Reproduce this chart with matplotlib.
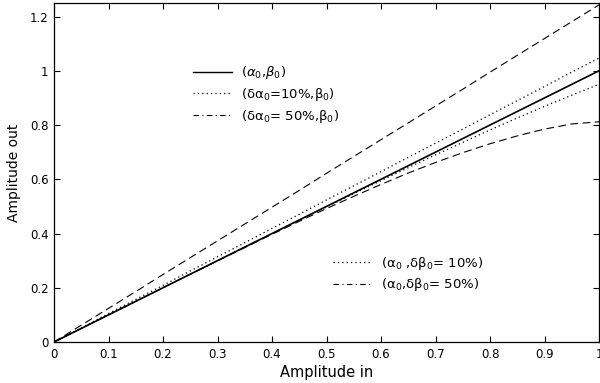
import matplotlib
matplotlib.use("Agg")
import matplotlib.pyplot as plt
from matplotlib.lines import Line2D
from matplotlib.ticker import FixedLocator, FuncFormatter

plt.rcParams['font.family'] = ['DejaVu Sans']
plt.rcParams['mathtext.fontset'] = 'dejavusans'

# Amplitude in
amp_in = [0.00, 0.05, 0.10, 0.15, 0.20, 0.25, 0.30, 0.35, 0.40, 0.45, 0.50,
          0.55, 0.60, 0.65, 0.70, 0.75, 0.80, 0.85, 0.90, 0.95, 1.00]
# (alpha0, beta0) nominal
nominal = [0.00, 0.05, 0.10, 0.15, 0.20, 0.25, 0.30, 0.35, 0.40, 0.45, 0.50,
           0.55, 0.60, 0.65, 0.70, 0.75, 0.80, 0.85, 0.90, 0.95, 1.00]
# d alpha0 = 10%
dalpha_10 = [0.000, 0.052, 0.105, 0.157, 0.209, 0.262, 0.314, 0.366, 0.419, 0.471, 0.524,
             0.576, 0.628, 0.681, 0.733, 0.785, 0.838, 0.890, 0.942, 0.995, 1.047]
# d alpha0 = 50%
dalpha_50 = [0.000, 0.062, 0.124, 0.186, 0.249, 0.311, 0.373, 0.435, 0.497, 0.559, 0.622,
             0.684, 0.746, 0.808, 0.870, 0.932, 0.995, 1.057, 1.119, 1.181, 1.243]
# d beta0 = 10%
dbeta_10 = [0.000, 0.050, 0.100, 0.150, 0.200, 0.250, 0.300, 0.350, 0.400, 0.449, 0.498,
            0.547, 0.595, 0.643, 0.690, 0.736, 0.782, 0.826, 0.869, 0.910, 0.950]
# d beta0 = 50%
dbeta_50 = [0.000, 0.050, 0.100, 0.150, 0.200, 0.250, 0.299, 0.348, 0.397, 0.445, 0.492,
            0.537, 0.581, 0.623, 0.662, 0.698, 0.731, 0.760, 0.785, 0.804, 0.812]

x_ticks = [0, 0.1, 0.2, 0.3, 0.4, 0.5, 0.6, 0.7, 0.8, 0.9, 1]
y_ticks = [0, 0.2, 0.4, 0.6, 0.8, 1, 1.2]

labels_alpha = [r'($\alpha_0$,$\beta_0$)',
                r'(δα$_0$=10%,β$_0$)',
                r'(δα$_0$= 50%,β$_0$)']
labels_beta = [r'(α$_0$ ,δβ$_0$= 10%)',
               r'(α$_0$,δβ$_0$= 50%)']

fig = plt.figure(figsize=(6.0, 3.83), dpi=100)
ax = fig.add_axes([54/600, 1 - 342/383, 545/600, 339/383])

dash_style = (0, (7, 4))
ax.plot(amp_in, nominal, color='black', lw=1.2, ls='-')
ax.plot(amp_in, dalpha_10, color='black', lw=0.9, ls=(0, (1, 2.5)))
ax.plot(amp_in, dalpha_50, color='black', lw=0.8, ls=dash_style)
ax.plot(amp_in, dbeta_10, color='black', lw=0.9, ls=(0, (1, 2.5)))
ax.plot(amp_in, dbeta_50, color='black', lw=0.8, ls=dash_style)

ax.set_xlim(0, 1)
ax.set_ylim(0, 1.25)
ax.xaxis.set_major_locator(FixedLocator(x_ticks))
ax.yaxis.set_major_locator(FixedLocator(y_ticks))
fmt = FuncFormatter(lambda v, p: '%g' % v)
ax.xaxis.set_major_formatter(fmt)
ax.yaxis.set_major_formatter(fmt)
ax.tick_params(direction='in', length=4, width=0.8, top=True, right=True,
               labelsize=8.5, pad=4)
for s in ax.spines.values():
    s.set_linewidth(0.9)

ax.set_xlabel('Amplitude in', fontsize=10.5, labelpad=3)
ax.set_ylabel('Amplitude out', fontsize=10, labelpad=6)

solid_h = Line2D([], [], color='black', lw=1.0, ls='-')
dot_h = Line2D([], [], color='black', lw=0.9, ls=(0, (1, 2.5)))
dd_h = Line2D([], [], color='black', lw=0.8, ls=(0, (5, 3, 1, 3)))

leg1 = fig.legend([solid_h, dot_h, dd_h], labels_alpha, loc='center left',
                  bbox_to_anchor=(186/600, 1 - 94.5/383), frameon=False,
                  fontsize=9.5, handlelength=3.0, handletextpad=0.7,
                  borderpad=0, labelspacing=0.35)
leg2 = fig.legend([dot_h, dd_h], labels_beta, loc='center left',
                  bbox_to_anchor=(326/600, 1 - 274/383), frameon=False,
                  fontsize=9.5, handlelength=3.0, handletextpad=0.7,
                  borderpad=0, labelspacing=0.35)

fig.savefig('out.png', dpi=100)
